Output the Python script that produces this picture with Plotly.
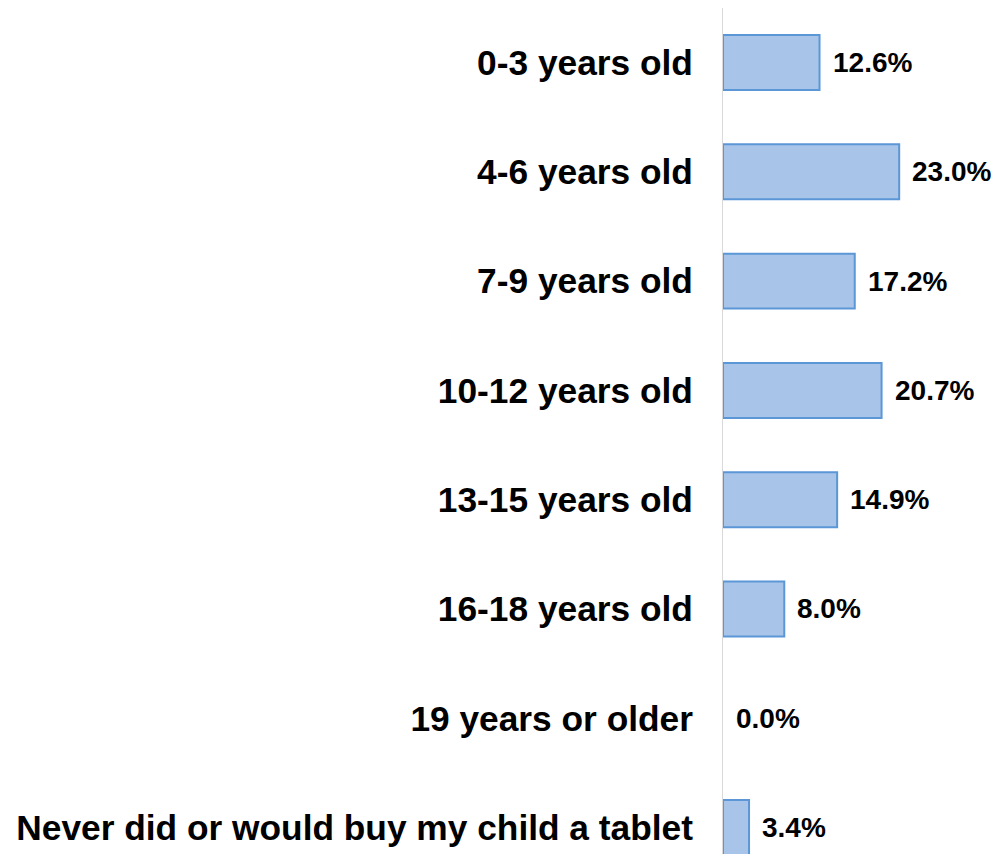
import plotly.graph_objects as go

# Age at which respondents bought (or would buy) their child a tablet
categories = [
    "0-3 years old",
    "4-6 years old",
    "7-9 years old",
    "10-12 years old",
    "13-15 years old",
    "16-18 years old",
    "19 years or older",
    "Never did or would buy my child a tablet",
]
shares = [12.6, 23.0, 17.2, 20.7, 14.9, 8.0, 0.0, 3.4]
share_labels = [f"{v:.1f}%" for v in shares]

FONT = "Liberation Sans, Arial, sans-serif"

# No outline on empty bars so a 0% row stays blank
outline_widths = [2 if v > 0 else 0 for v in shares]

fig = go.Figure(
    go.Bar(
        x=shares,
        y=categories,
        orientation="h",
        marker=dict(color="#a8c5e9", line=dict(color="#5b96d6", width=outline_widths)),
        hoverinfo="skip",
    )
)

# Percentage labels just past the end of each bar
for cat, val, lab in zip(categories, shares, share_labels):
    fig.add_annotation(
        x=val, y=cat, text=lab, showarrow=False,
        xanchor="left", yanchor="middle", xshift=11,
        font=dict(family=FONT, size=28, color="black", weight=700),
    )

fig.update_layout(
    width=998, height=854,
    margin=dict(l=723, r=0, t=8, b=0),
    paper_bgcolor="white", plot_bgcolor="white",
    bargap=0.497,
    showlegend=False,
)
fig.update_xaxes(
    range=[0, 35.9], showgrid=False, zeroline=False,
    showticklabels=False, showline=False,
)
fig.update_yaxes(
    type="category",
    range=[7.242, -0.499], autorange=False,
    showgrid=False, zeroline=False,
    showline=True, linecolor="#d9d9d9", linewidth=1,
    ticks="", ticklabelstandoff=22,
    tickfont=dict(family=FONT, size=35.3, color="black", weight=700),
)

fig.write_html("out.html")
